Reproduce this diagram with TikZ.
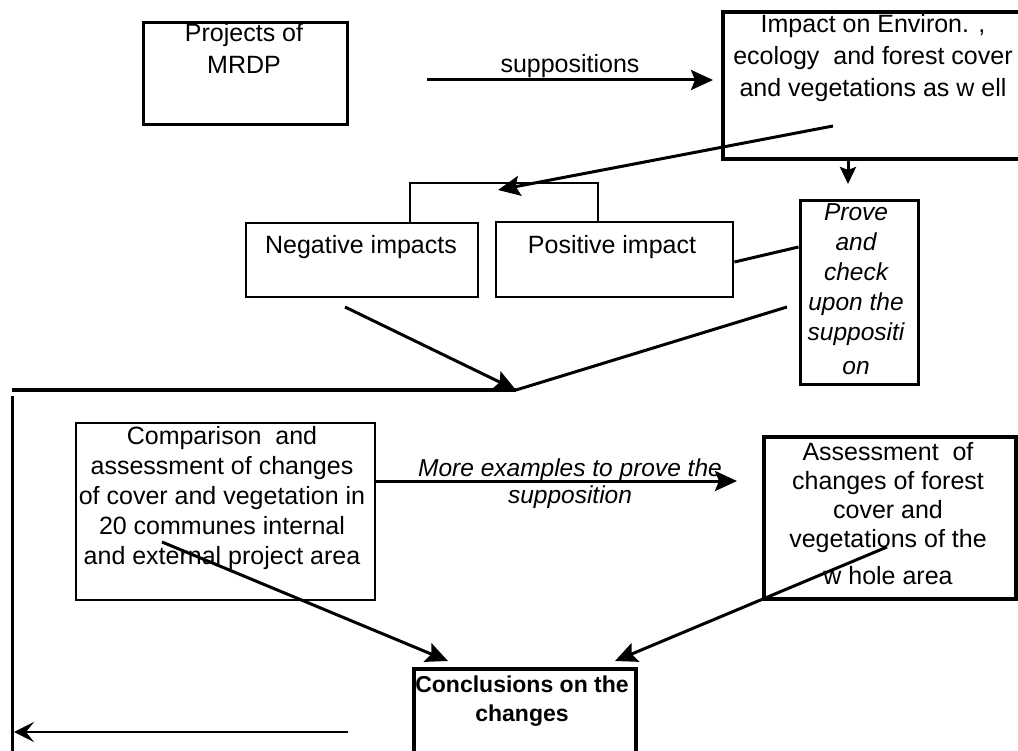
\documentclass[tikz,border=0pt]{standalone}
\usepackage{fontspec}
\setmainfont{Liberation Sans}
\usetikzlibrary{arrows.meta}
\begin{document}
\begin{tikzpicture}[x=1pt,y=-1pt,
  box/.style={draw, line width=3pt, inner sep=0pt},
  txt/.style={font=\fontsize{25}{30}\selectfont, align=center, inner sep=0pt, anchor=north},
  conn/.style={line width=3pt},
  arr/.style={conn, -{Stealth[length=22pt,width=20pt,inset=4pt]}},
]
\useasboundingbox (0,0) rectangle (1018,751);
\clip (0,0) rectangle (1018,751);

% boxes
\node[box, minimum width=204pt, minimum height=102pt] (proj) at (245,73.5) {};
\node[box, line width=4pt, minimum width=307pt, minimum height=147pt] (impact) at (876.5,85.5) {};
\node[box, line width=2.8pt, minimum width=232pt, minimum height=74pt] (neg) at (362,260) {};
\node[box, line width=2.8pt, minimum width=237pt, minimum height=75pt] (pos) at (614.5,259.5) {};
\node[box, minimum width=118pt, minimum height=184pt] (prove) at (859,293) {};
\node[box, line width=2.6pt, minimum width=299pt, minimum height=177pt] (comp) at (225.5,511.5) {};
\node[box, line width=3.8pt, minimum width=252pt, minimum height=162pt] (assess) at (890,518) {};
\node[box, line width=3.8pt, minimum width=222pt, minimum height=121pt] (concl) at (525,729.5) {};

% texts
\node[txt, font=\fontsize{25}{32}\selectfont] (tproj) at (244,23) {Projects of\\MRDP};
\node[txt, font=\fontsize{25}{32}\selectfont] (timpact) at (873,14) {Impact on Environ. ,\\ecology \ and forest cover\\and vegetations as w ell};
\node[txt] (tneg) at (361,235) {Negative impacts};
\node[txt] (tpos) at (612,235) {Positive impact};
\node[txt, font=\fontsize{24.5}{30}\selectfont\itshape] (tprove) at (856,203) {Prove\\and\\check\\upon the\\suppositi\\[4pt]on};
\node[txt] (tcomp) at (222,426) {Comparison \ and\\assessment of changes\\of cover and vegetation in\\20 communes internal\\and external project area};
\node[txt, font=\fontsize{25}{29}\selectfont] (tassess) at (888,442) {Assessment \ of\\changes of forest\\cover and\\vegetations of the\\[8pt]w hole area};
\node[txt, font=\fontsize{23}{29}\selectfont\bfseries] (tconcl) at (522,676) {Conclusions on the\\changes};

% connector coordinates
\coordinate (supS) at (427,80);
\coordinate (supE) at (713,80);
\coordinate (i1) at (833,126);
\coordinate (brM) at (498,190);
\coordinate (brL) at (410,183);
\coordinate (brR) at (598,183);
\coordinate (pv) at (848,184);
\coordinate (v1) at (345,307);
\coordinate (v2) at (787,307);
\coordinate (vM) at (516,390);
\coordinate (hL) at (12,390);
\coordinate (vT) at (12,396);
\coordinate (vB) at (12,760);
\coordinate (bS) at (348,732);
\coordinate (bE) at (14,732);
\coordinate (mE) at (737,481);
\coordinate (c1) at (162,542);
\coordinate (cT1) at (448,661);
\coordinate (a1) at (887,547);
\coordinate (cT2) at (615,661);

% connectors
\draw[arr] (supS) -- (supE) node[midway, above=0.5pt, inner sep=0pt, font=\fontsize{25}{30}\selectfont] (lsup) {suppositions};
\draw[arr] (i1) -- (brM);
\draw[line width=2.5pt] (neg.north -| brL) -- (brL) -- (brR) -- (pos.north -| brR);
\draw[arr, -{Stealth[length=17pt,width=16pt,inset=3pt]}] (impact.south -| pv) -- (pv);
\draw[conn] ([yshift=-2.5pt]pos.east) -- ([yshift=46pt]prove.west);
\draw[arr] (v1) -- (vM);
\draw[conn] (v2) -- (vM);
\draw[line width=4pt] (hL) -- (vM);
\draw[line width=3pt] (vT) -- (vB);
\draw[line width=2.5pt, -{Stealth[length=20pt,width=20pt,inset=8pt]}] (bS) -- (bE);
\draw[arr] (comp.east |- mE) -- (mE);
\node[txt, font=\fontsize{24.5}{27}\selectfont\itshape] (lmore) at (570,459) {More examples to prove the\\supposition};
\draw[arr] (c1) -- (cT1);
\draw[arr] (a1) -- (cT2);
\end{tikzpicture}
\end{document}
